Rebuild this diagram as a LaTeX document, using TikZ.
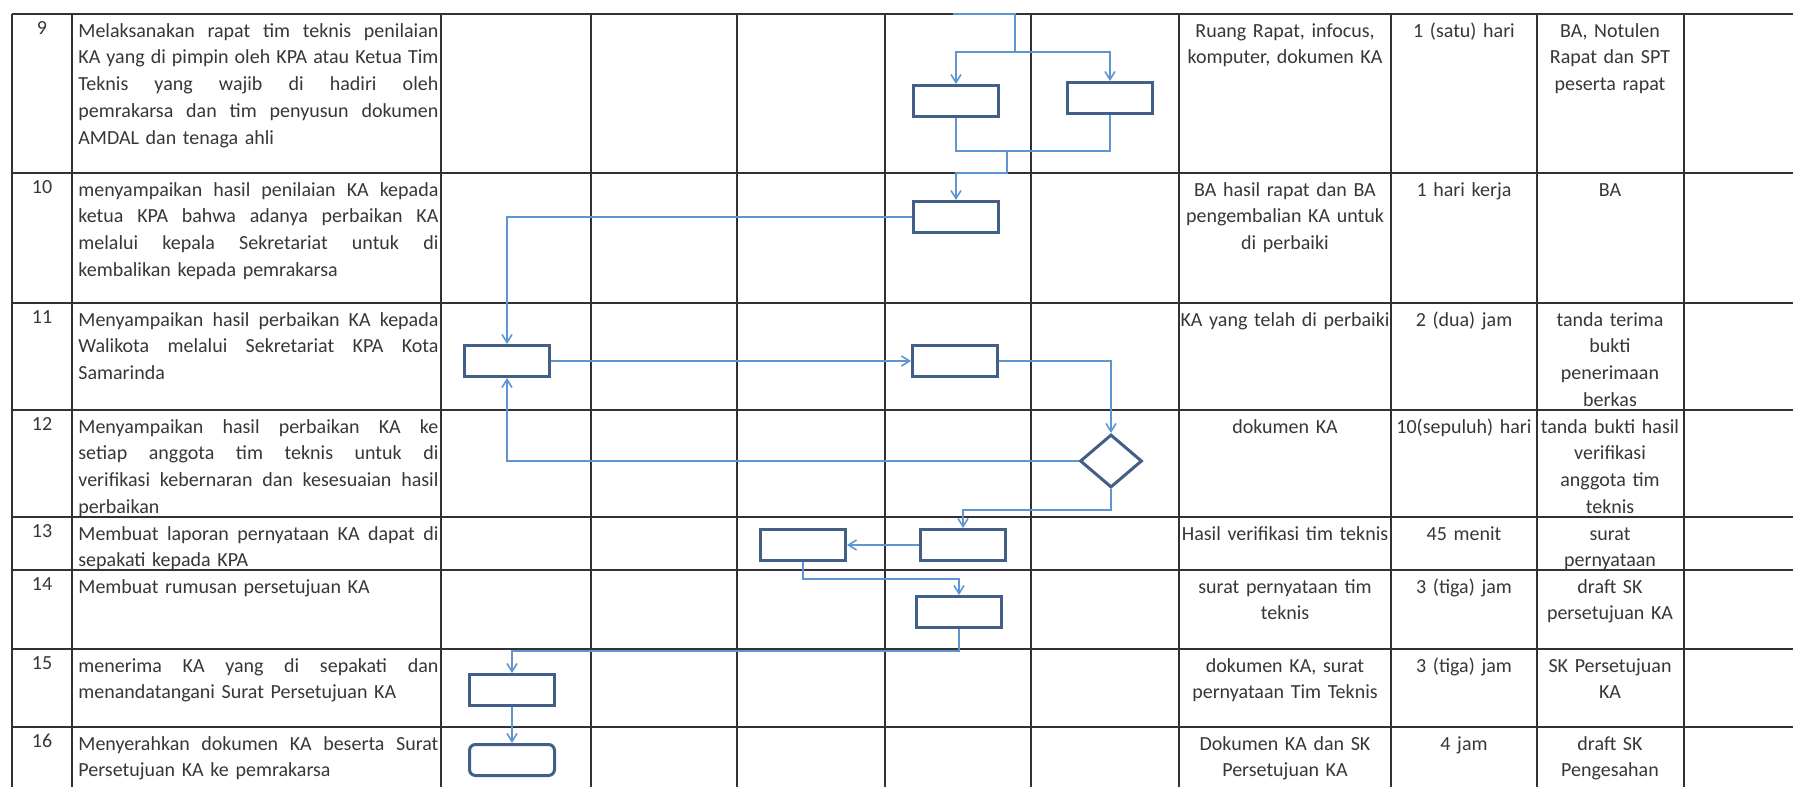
\documentclass[tikz,border=0pt]{standalone}
\usepackage{fontspec}
\setmainfont{Carlito}
\usepackage{xcolor}
\usepackage{tikz}
\usetikzlibrary{positioning,arrows.meta,shapes.geometric}

\definecolor{gridline}{RGB}{50,50,50}
\definecolor{ink}{RGB}{55,55,55}
\definecolor{flowblue}{RGB}{95,150,210}
\definecolor{boxblue}{RGB}{65,95,135}

% justified line of the description column
\newcommand{\jl}[1]{{\spaceskip=0pt\xspaceskip=0pt\makebox[180pt][s]{#1}}}

\begin{document}
\begin{tikzpicture}[x=0.5pt, y=-0.5pt,
			grid/.style={draw=gridline, line width=1pt},
			num/.style={anchor=base, inner sep=0pt, text=ink, font=\fontsize{10}{13.4}\selectfont},
			desc/.style={anchor=base west, inner sep=0pt, text width=180pt, align=left, text=ink, font=\fontsize{10}{13.4}\selectfont},
			cell/.style={anchor=base, inner sep=0pt, text width=#1, align=center, text=ink, font=\fontsize{10}{13.4}\selectfont},
			box/.style={draw=boxblue, line width=1.5pt, rectangle, minimum width=42.5pt, minimum height=15.5pt, inner sep=0pt},
			decide/.style={draw=boxblue, line width=1.5pt, diamond, minimum width=31pt, minimum height=26.5pt, inner sep=0pt},
			link/.style={draw=flowblue, line width=0.8pt},
			arrow/.style={link, -{Straight Barb[length=4pt,width=5pt]}}]
			
			\fill[white] (0,0) rectangle (1793,787);
			\useasboundingbox (0,0) rectangle (1793,787);
			
			% table rows
			\draw[grid] (12,14) -- (1793,14);
			\draw[grid] (12,173) -- (1793,173);
			\draw[grid] (12,303) -- (1793,303);
			\draw[grid] (12,410) -- (1793,410);
			\draw[grid] (12,517) -- (1793,517);
			\draw[grid] (12,570) -- (1793,570);
			\draw[grid] (12,649) -- (1793,649);
			\draw[grid] (12,727) -- (1793,727);
			
			% table columns
			\draw[grid] (12,14) -- (12,787);
			\draw[grid] (72,14) -- (72,787);
			\draw[grid] (441,14) -- (441,787);
			\draw[grid] (591,14) -- (591,787);
			\draw[grid] (737,14) -- (737,787);
			\draw[grid] (885,14) -- (885,787);
			\draw[grid] (1031,14) -- (1031,787);
			\draw[grid] (1179,14) -- (1179,787);
			\draw[grid] (1391,14) -- (1391,787);
			\draw[grid] (1537,14) -- (1537,787);
			\draw[grid] (1684,14) -- (1684,787);
			
			% row 9
			\node[num] (n9) at (42,34) {9};
			\node[desc] (d9) at (78,37) {\jl{Melaksanakan rapat tim teknis penilaian}\\\jl{KA yang di pimpin oleh KPA atau Ketua Tim}\\\jl{Teknis yang wajib di hadiri oleh}\\\jl{pemrakarsa dan tim penyusun dokumen}\\AMDAL dan tenaga ahli};
			\node[cell=106pt] (r9) at (1285,37) {Ruang Rapat, infocus,\\komputer,  dokumen KA};
			\node[cell=75pt] (t9) at (1464,37) {1 (satu) hari};
			\node[cell=75pt] (o9) at (1610,37) {BA, Notulen\\Rapat dan SPT\\peserta rapat};
			
			% row 10
			\node[num] (n10) at (42,193) {10};
			\node[desc] (d10) at (78,196) {\jl{menyampaikan hasil penilaian KA kepada}\\\jl{ketua KPA bahwa adanya perbaikan KA}\\\jl{melalui kepala Sekretariat untuk di}\\kembalikan kepada pemrakarsa};
			\node[cell=106pt] (r10) at (1285,196) {BA hasil rapat  dan BA\\pengembalian KA untuk\\di perbaiki};
			\node[cell=75pt] (t10) at (1464,196) {1 hari kerja};
			\node[cell=75pt] (o10) at (1610,196) {BA};
			
			% row 11
			\node[num] (n11) at (42,323) {11};
			\node[desc] (d11) at (78,326) {\jl{Menyampaikan hasil perbaikan KA kepada}\\\jl{Walikota melalui Sekretariat KPA Kota}\\Samarinda};
			\node[cell=106pt] (r11) at (1285,326) {KA yang telah di perbaiki};
			\node[cell=75pt] (t11) at (1464,326) {2 (dua) jam};
			\node[cell=75pt] (o11) at (1610,326) {tanda terima\\bukti\\penerimaan\\berkas};
			
			% row 12
			\node[num] (n12) at (42,430) {12};
			\node[desc] (d12t) at (78,433) {\jl{Menyampaikan hasil perbaikan KA ke}\\\jl{setiap anggota tim teknis untuk di}\\\jl{verifikasi kebernaran dan kesesuaian hasil}\\perbaikan};
			\node[cell=106pt] (r12) at (1285,433) {dokumen KA};
			\node[cell=75pt] (t12) at (1464,433) {10(sepuluh) hari};
			\node[cell=75pt] (o12) at (1610,433) {tanda bukti hasil\\verifikasi\\anggota tim\\teknis};
			
			% row 13
			\node[num] (n13) at (42,537) {13};
			\node[desc] (d13) at (78,540) {\jl{Membuat laporan pernyataan KA dapat di}\\sepakati kepada KPA};
			\node[cell=106pt] (r13) at (1285,540) {Hasil verifikasi tim teknis};
			\node[cell=75pt] (t13) at (1464,540) {45 menit};
			\node[cell=75pt] (o13) at (1610,540) {surat\\pernyataan};
			
			% row 14
			\node[num] (n14) at (42,590) {14};
			\node[desc] (d14) at (78,593) {Membuat rumusan persetujuan KA};
			\node[cell=106pt] (r14) at (1285,593) {surat pernyataan tim\\teknis};
			\node[cell=75pt] (t14) at (1464,593) {3 (tiga) jam};
			\node[cell=75pt] (o14) at (1610,593) {draft SK\\persetujuan KA};
			
			% row 15
			\node[num] (n15) at (42,669) {15};
			\node[desc] (d15) at (78,672) {\jl{menerima KA yang di sepakati dan}\\menandatangani Surat Persetujuan KA};
			\node[cell=106pt] (r15) at (1285,672) {dokumen KA, surat\\pernyataan Tim Teknis};
			\node[cell=75pt] (t15) at (1464,672) {3 (tiga) jam};
			\node[cell=75pt] (o15) at (1610,672) {SK Persetujuan\\KA};
			
			% row 16
			\node[num] (n16) at (42,747) {16};
			\node[desc] (d16) at (78,750) {\jl{Menyerahkan dokumen KA beserta Surat}\\Persetujuan KA ke pemrakarsa};
			\node[cell=106pt] (r16) at (1285,750) {Dokumen KA dan SK\\Persetujuan KA};
			\node[cell=75pt] (t16) at (1464,750) {4 jam};
			\node[cell=75pt] (o16) at (1610,750) {draft SK\\Pengesahan};
			
			% flow
			\node[box] (b9a) at (956,101) {};
			\node[box] (b9b) at (1110,98) {};
			\node[box] (b10) at (956,217) {};
			\node[box] (b11a) at (507,361) {};
			\node[box] (b11b) at (955,361) {};
			\node[decide] (d12) at (1111,461) {};
			\node[box] (b13a) at (963,545) {};
			\node[box] (b13b) at (803,545) {};
			\node[box] (b14) at (959,612) {};
			\node[box] (b15) at (512,690) {};
			\node[box, rounded corners=3pt] (b16) at (512,760) {};
			
			\coordinate (c9in) at (953,14);
			\coordinate (c9fork) at (1015,52);
			\coordinate (c9join) at (1007,151);
			\coordinate (c10in) at (1007,173);
			\coordinate (c12out) at (1111,510);
			\coordinate (c13out) at (803,579);
			\coordinate (c14out) at (959,651);
			
			\draw[link] (c9in) -| (c9fork);
			\draw[arrow] (c9fork) -| (b9a.north);
			\draw[arrow] (c9fork) -| (b9b.north);
			\draw[link] (b9a.south) |- (c9join);
			\draw[link] (b9b.south) |- (c9join);
			\draw[arrow] (c9join) -- (c10in) -| (b10.north);
			\draw[arrow] (b10.west) -| (b11a.north);
			\draw[arrow] (b11a.east) -- (b11b.west);
			\draw[arrow] (b11b.east) -| (d12.north);
			\draw[arrow] (d12.west) -| (b11a.south);
			\draw[arrow] (d12.south) -- (c12out) -| (b13a.north);
			\draw[arrow] (b13a.west) -- (b13b.east);
			\draw[arrow] (b13b.south) -- (c13out) -| (b14.north);
			\draw[arrow] (b14.south) -- (c14out) -| (b15.north);
			\draw[arrow] (b15.south) -- (b16.north);
			
		\end{tikzpicture}
\end{document}
